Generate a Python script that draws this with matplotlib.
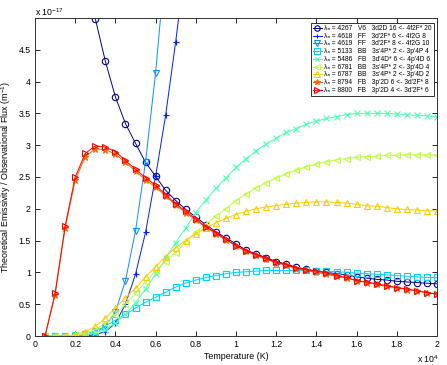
import numpy as np
import matplotlib
matplotlib.use("Agg")
import matplotlib.pyplot as plt

plt.rcParams['font.family'] = ['Liberation Sans', 'DejaVu Sans']
plt.rcParams['mathtext.fontset'] = 'custom'
plt.rcParams['mathtext.rm'] = 'Liberation Sans'
plt.rcParams['mathtext.it'] = 'Liberation Sans:italic'

# Temperature grid in units of 10^4 K
temperature = [0.05, 0.10, 0.15, 0.20, 0.25, 0.30, 0.35, 0.40, 0.45, 0.50,
               0.55, 0.60, 0.65, 0.70, 0.75, 0.80, 0.85, 0.90, 0.95, 1.00,
               1.05, 1.10, 1.15, 1.20, 1.25, 1.30, 1.35, 1.40, 1.45, 1.50,
               1.55, 1.60, 1.65, 1.70, 1.75, 1.80, 1.85, 1.90, 1.95, 2.00]

# Ratios in units of 1e-17
s4267 = [60, 40, 25, 14, 7.5, 4.99, 4.32, 3.76, 3.34, 3.03,
         2.73, 2.51, 2.29, 2.13, 1.99, 1.87, 1.75, 1.64, 1.54, 1.45,
         1.35, 1.29, 1.23, 1.17, 1.13, 1.08, 1.05, 1.02, 1.00, 0.98,
         0.96, 0.93, 0.91, 0.89, 0.88, 0.86, 0.85, 0.84, 0.83, 0.82]
s4618 = [0, 0, 0, 0, 0, 0.02, 0.07, 0.20, 0.50, 0.97,
         1.63, 2.51, 3.47, 4.63, 5.9, 7.3, 8.8, 10.4, 12, 13.6,
         15, 16.5, 18, 19.4, 20.7, 22, 23, 24, 25, 26,
         27, 28, 29, 30, 31, 32, 33, 34, 35, 36]
s4619 = [0, 0, 0, 0, 0.01, 0.05, 0.15, 0.38, 0.87, 1.65,
         2.74, 4.14, 5.9, 8.0, 10.2, 12.5, 15, 17.5, 20, 22,
         24, 26, 28, 30, 32, 34, 36, 38, 40, 42,
         44, 46, 48, 50, 52, 54, 56, 58, 60, 62]
s5133 = [0, 0, 0, 0.01, 0.03, 0.08, 0.15, 0.25, 0.34, 0.44,
         0.53, 0.61, 0.69, 0.77, 0.83, 0.88, 0.92, 0.95, 0.98, 1.00,
         1.01, 1.02, 1.03, 1.03, 1.03, 1.03, 1.03, 1.02, 1.02, 1.01,
         1.00, 0.99, 0.98, 0.97, 0.96, 0.95, 0.94, 0.93, 0.92, 0.92]
s5486 = [0, 0, 0, 0.01, 0.02, 0.05, 0.10, 0.20, 0.34, 0.52,
         0.74, 0.97, 1.22, 1.47, 1.70, 1.94, 2.14, 2.32, 2.49, 2.65,
         2.79, 2.91, 3.02, 3.11, 3.20, 3.26, 3.33, 3.38, 3.42, 3.45,
         3.48, 3.50, 3.50, 3.50, 3.50, 3.49, 3.48, 3.47, 3.46, 3.45]
s6781 = [0, 0, 0, 0.01, 0.04, 0.10, 0.20, 0.33, 0.50, 0.67,
         0.85, 1.02, 1.17, 1.31, 1.48, 1.64, 1.76, 1.88, 2.00, 2.13,
         2.23, 2.33, 2.41, 2.48, 2.55, 2.61, 2.66, 2.70, 2.74, 2.77,
         2.79, 2.81, 2.82, 2.83, 2.84, 2.84, 2.85, 2.85, 2.85, 2.85]
s6787 = [0, 0, 0, 0.02, 0.07, 0.15, 0.28, 0.44, 0.60, 0.75,
         0.93, 1.09, 1.25, 1.39, 1.50, 1.61, 1.70, 1.78, 1.85, 1.91,
         1.96, 2.00, 2.03, 2.05, 2.07, 2.09, 2.10, 2.11, 2.11, 2.10,
         2.09, 2.07, 2.05, 2.04, 2.02, 2.00, 1.99, 1.98, 1.97, 1.96]
s8794 = [0, 0.65, 1.70, 2.45, 2.82, 2.94, 2.93, 2.86, 2.73, 2.59,
         2.46, 2.34, 2.20, 2.06, 1.94, 1.82, 1.71, 1.61, 1.51, 1.42,
         1.33, 1.27, 1.21, 1.15, 1.11, 1.06, 1.03, 1.00, 0.97, 0.94,
         0.91, 0.87, 0.84, 0.81, 0.78, 0.76, 0.73, 0.71, 0.68, 0.66]
s8800 = [0, 0.67, 1.73, 2.50, 2.87, 2.99, 2.97, 2.90, 2.76, 2.62,
         2.49, 2.37, 2.22, 2.08, 1.96, 1.84, 1.72, 1.62, 1.52, 1.42,
         1.34, 1.28, 1.22, 1.16, 1.12, 1.07, 1.04, 1.02, 0.99, 0.95,
         0.92, 0.87, 0.85, 0.82, 0.79, 0.76, 0.74, 0.71, 0.68, 0.66]

labels = [
    "\u03bb\u2090 = 4267   V6   3d2D 16 <- 4f2F* 20",
    "\u03bb\u2090 = 4618   FF   3d'2F* 6 <- 4f2G 8",
    "\u03bb\u2090 = 4619   FF   3d'2F* 8 <- 4f2G 10",
    "\u03bb\u2090 = 5133   BB   3s'4P* 2 <- 3p'4P 4",
    "\u03bb\u2090 = 5486   FB   3d'4D* 6 <- 4p'4D 6",
    "\u03bb\u2090 = 6781   BB   3s'4P* 2 <- 3p'4D 4",
    "\u03bb\u2090 = 6787   BB   3s'4P* 2 <- 3p'4D 2",
    "\u03bb\u2090 = 8794   FB   3p'2D 6 <- 3d'2F* 8",
    "\u03bb\u2090 = 8800   FB   3p'2D 4 <- 3d'2F* 6",
]
series = [s4267, s4618, s4619, s5133, s5486, s6781, s6787, s8794, s8800]
colors = [(0.0, 0.0, 0.58), (0.0, 0.12, 1.0), (0.05, 0.55, 1.0), (0.0, 0.82, 1.0),
          (0.3, 1.0, 0.7), (0.75, 1.0, 0.25), (1.0, 0.8, 0.0), (1.0, 0.4, 0.0), (1.0, 0.0, 0.0)]
markers = ['o', '+', 'v', 's', 'x', '<', '^', '*', '>']

fig = plt.figure(figsize=(4.47, 3.65), dpi=100)
ax = fig.add_axes([35/447, 29/365, 402/447, 318/365])

for y, c, m, lab in zip(series, colors, markers, labels):
    filled = m in ('+', 'x', '*')
    ax.plot(temperature, y, color=c, marker=m, lw=0.7, ms=4.6 if m not in ('+', 'x') else 4.2,
            mfc=c if filled else 'none', mec=c, mew=0.8, label=lab, clip_on=True)

ax.set_xlim(0, 2)
ax.set_ylim(0, 5)
ax.set_xticks([0, 0.2, 0.4, 0.6, 0.8, 1.0, 1.2, 1.4, 1.6, 1.8, 2.0])
ax.set_xticklabels(['0', '0.2', '0.4', '0.6', '0.8', '1', '1.2', '1.4', '1.6', '1.8', '2'])
ax.set_yticks([0, 0.5, 1, 1.5, 2, 2.5, 3, 3.5, 4, 4.5, 5])
ax.set_yticklabels(['0', '0.5', '1', '1.5', '2', '2.5', '3', '3.5', '4', '4.5', ''])
ax.tick_params(direction='in', top=True, right=True, length=3.5, width=0.6,
               labelsize=6.3, pad=3, colors='black')
for s in ax.spines.values():
    s.set_linewidth(0.7)
    s.set_color('#333333')

ax.set_xlabel('Temperature (K)', fontsize=6.4, labelpad=2)
ax.set_ylabel('Theoretical Emissivity / Observational Flux (m$^{-1}$)', fontsize=6.4, labelpad=4)

fig.text(35/447, 1 - 12/365, 'x 10$^{-17}$', fontsize=6.3, va='center', ha='left')
fig.text(417/447, 1 - 359/365, 'x 10$^{4}$', fontsize=6.3, va='center', ha='left')

leg = ax.legend(loc='upper right', bbox_to_anchor=(434/447, 1 - 23/365),
                bbox_transform=fig.transFigure, fontsize=4.8, handlelength=1.3,
                handleheight=0.5, handletextpad=0.45, labelspacing=0.11, borderpad=0.3,
                borderaxespad=0, markerscale=0.85, fancybox=False, framealpha=1,
                edgecolor='#333333')
leg.get_frame().set_linewidth(0.7)

fig.savefig('out.png', dpi=100)
